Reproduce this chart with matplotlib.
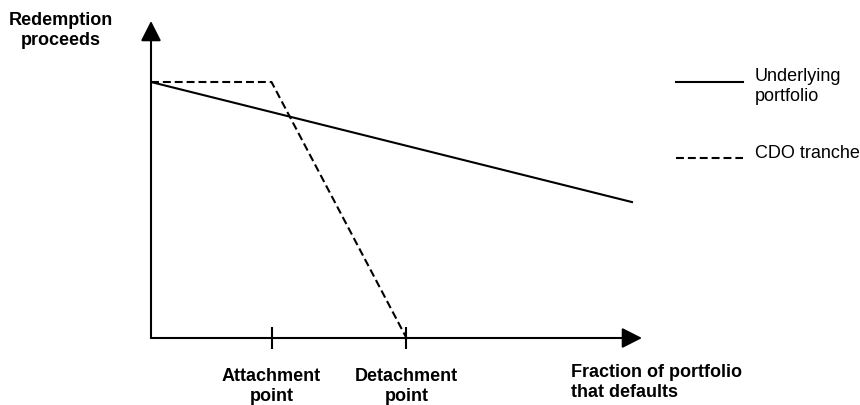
import matplotlib
matplotlib.use("Agg")
import matplotlib.pyplot as plt
from matplotlib.lines import Line2D

plt.rcParams["font.family"] = ["Liberation Sans", "DejaVu Sans"]

# data: x = fraction of portfolio that defaults, y = redemption proceeds
portfolio_x = [0.0, 1.0]
portfolio_y = [100, 53]
attachment = 0.25
detachment = 0.53
tranche_x = [0.0, attachment, detachment]
tranche_y = [100, 100, 0]
tick_values = [attachment, detachment]
tick_labels = ["Attachment\npoint", "Detachment\npoint"]
legend_labels = ["Underlying\nportfolio", "CDO tranche"]

W, H = 860, 406
FS = 13
LW = 1.5


def fx(px):
    return px / W


def fy(py):
    return 1 - py / H


fig = plt.figure(figsize=(W / 100, H / 100), dpi=100)
ax = fig.add_axes([fx(151), fy(339), (642 - 151) / W, (339 - 22) / H])
ax.set_xlim(0, 491 / 482)
ax.set_ylim(0, 100 * 317 / 256)
for s in ax.spines.values():
    s.set_visible(False)

ax.plot(portfolio_x, portfolio_y, color="black", lw=LW, solid_capstyle="butt")
ax.plot(tranche_x, tranche_y, color="black", lw=LW, dashes=(3.8, 1.9))

# axis arrows
arrow = dict(arrowstyle="-|>,head_length=1.22,head_width=0.62", lw=LW,
             color="black", shrinkA=0, shrinkB=0)
ax.annotate("", xy=(1, 0), xytext=(0, 0), xycoords="axes fraction",
            arrowprops=arrow, annotation_clip=False)
ax.annotate("", xy=(0, 1), xytext=(0, 0), xycoords="axes fraction",
            arrowprops=arrow, annotation_clip=False)

ax.set_xticks(tick_values, tick_labels, fontweight="bold", fontsize=FS)
ax.tick_params(axis="x", direction="inout", length=16, width=LW, pad=13)
ax.set_yticks([])

fig.text(fx(61), fy(12), "Redemption\nproceeds", ha="center", va="top",
         fontsize=FS, fontweight="bold")
fig.text(fx(571), fy(364), "Fraction of portfolio\nthat defaults", ha="left",
         va="top", fontsize=FS, fontweight="bold")

# legend drawn by hand at the right
styles = [dict(ls="-"), dict(dashes=(3.8, 1.9))]
rows = [(83, 68), (159, 145)]
for label, st, (ly, ty) in zip(legend_labels, styles, rows):
    fig.add_artist(Line2D([fx(676), fx(743)], [fy(ly), fy(ly)], color="black",
                          lw=LW, **st))
    fig.text(fx(755), fy(ty), label, ha="left", va="top", fontsize=FS)

fig.savefig("out.png", dpi=100)
